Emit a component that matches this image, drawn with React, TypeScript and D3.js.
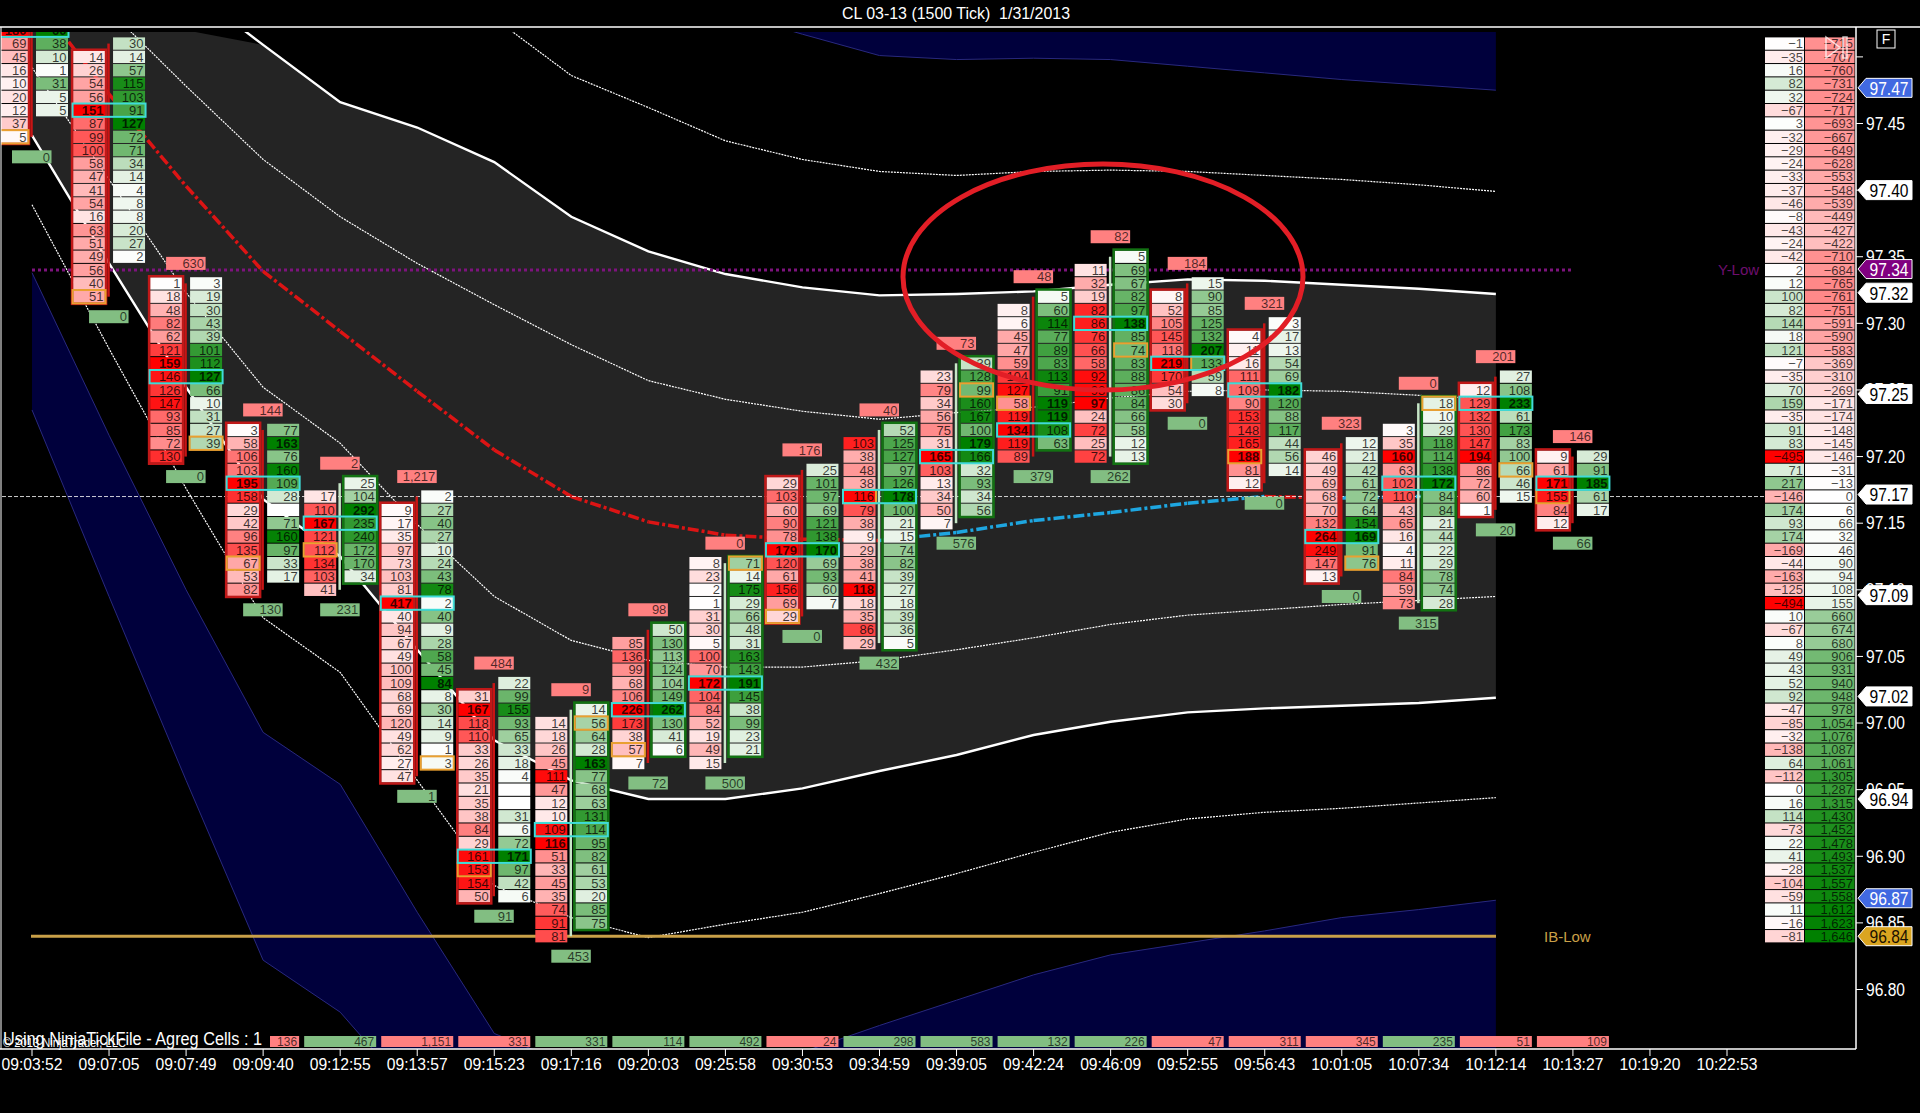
import * as d3 from "d3";

const TIME_LABELS = ["09:03:52","09:07:05","09:07:49","09:09:40","09:12:55","09:13:57","09:15:23","09:17:16","09:20:03","09:25:58","09:30:53","09:34:59","09:39:05","09:42:24","09:46:09","09:52:55","09:56:43","10:01:05","10:07:34","10:12:14","10:13:27","10:19:20","10:22:53"];

// footprint: first price of each column, then values going down one tick (0.01) per row
const BID_TOP = [97.52,97.50,97.33,97.22,97.17,97.16,97.02,97.00,97.06,97.12,97.18,97.21,97.26,97.31,97.34,97.32,97.29,97.20,97.22,97.25,97.20];
const ASK_TOP = [97.52,97.51,97.33,97.22,97.18,97.17,97.03,97.01,97.07,97.12,97.19,97.22,97.27,97.32,97.35,97.33,97.30,97.21,97.24,97.26,97.20];
const BIDS: number[][] = [
  [180,69,45,16,10,20,12,37,5],
  [14,26,54,56,151,87,99,100,58,47,41,54,16,63,51,49,56,40,51],
  [1,18,48,82,62,121,159,146,126,147,93,85,72,130],
  [3,58,106,103,195,158,29,42,96,135,67,53,82],
  [17,110,167,121,112,134,103,41],
  [9,17,35,97,73,103,81,417,40,94,67,49,100,109,68,69,120,49,62,27,47],
  [31,167,118,110,33,26,35,21,35,38,84,29,161,153,154,50],
  [14,18,26,45,111,47,12,10,109,116,51,33,45,35,74,91,81],
  [85,136,99,68,106,226,173,38,57,7],
  [8,23,2,1,31,30,5,100,70,172,104,84,52,19,49,15],
  [29,103,60,90,78,179,120,61,156,69,29],
  [103,38,48,38,116,79,38,9,29,38,41,118,18,35,86,29],
  [23,79,34,56,75,31,165,103,13,34,50,7],
  [8,6,45,47,59,104,127,58,119,134,119,89],
  [11,32,19,82,86,76,66,58,92,93,97,24,72,25,72],
  [8,52,105,145,118,219,170,54,30],
  [4,11,16,111,109,90,153,148,165,188,81,12],
  [46,49,69,68,70,132,264,249,147,13],
  [3,35,160,63,102,110,43,65,16,4,11,84,59,73],
  [12,129,132,130,147,194,86,72,60,1],
  [9,61,171,155,84,12],
];
const ASKS: (number | null)[][] = [
  [60,38,10,1,31,5,5],
  [30,14,57,115,103,91,127,72,71,34,14,4,8,8,20,27,2],
  [3,19,30,43,39,101,112,127,66,10,31,27,39],
  [77,163,76,160,109,28,null,71,160,97,33,17],
  [25,104,292,235,240,172,170,34],
  [2,27,40,27,10,24,43,78,2,40,9,28,58,45,84,8,30,14,9,1,3],
  [22,99,155,93,65,33,18,4,null,null,31,6,72,171,97,42,6],
  [14,56,64,28,163,77,68,63,131,114,95,82,61,53,20,85,75],
  [50,130,113,124,104,149,262,130,41,6],
  [71,14,175,29,66,48,31,163,143,191,145,38,99,23,21],
  [25,101,97,69,121,138,170,69,93,60,7],
  [52,125,127,97,126,178,100,21,15,74,82,39,27,18,39,36,5],
  [39,128,99,160,167,100,179,166,32,93,34,56],
  [5,60,114,77,89,83,113,91,119,119,108,63],
  [5,69,67,82,97,138,85,74,83,88,86,84,66,58,12,13],
  [15,90,85,125,132,207,133,59,8],
  [3,17,13,54,69,182,120,88,117,44,56,14],
  [12,21,42,61,72,64,154,169,91,76],
  [18,10,29,118,114,138,172,84,84,21,44,22,29,78,74,28],
  [27,108,233,61,173,83,100,66,46,15],
  [29,91,185,61,17],
];
const POC_PRICE = [97.52,97.46,97.26,97.18,97.15,97.09,96.90,96.92,97.01,97.03,97.13,97.17,97.20,97.22,97.30,97.27,97.25,97.14,97.18,97.24,97.18];
const MARK_SIDE = ["bid","bid","ask","bid","bid","ask","bid","ask","bid","ask","bid","bid","ask","bid","ask","ask","bid","ask","ask","ask","bid"];
const MARK_PRICE = [97.44,97.32,97.21,97.12,97.13,96.97,96.89,97.00,96.98,97.12,97.08,97.17,97.25,97.24,97.28,97.27,97.20,97.12,97.24,97.19,97.17];
const FRAME_SIDE = ["bid","bid","bid","bid","ask","bid","bid","ask","ask","ask","bid","ask","ask","ask","ask","bid","bid","bid","ask","bid","bid"];
const WICK_UP = [0,0,0,0,1,0,0,1,0,1,0,1,1,0,1,0,0,0,1,0,0];
const TOP_DELTA = [null,null,630,144,2,1217,484,9,98,0,176,40,73,48,82,184,321,323,0,201,146];
const BOTTOM_DELTA = [0,0,0,130,231,1,91,453,72,500,0,432,576,379,262,0,0,0,315,20,66];
const VOLUME = [null,null,null,-136,467,-1151,-331,331,114,492,-24,298,583,132,226,-47,-311,-345,235,-51,-109];

// bands, price per bar
const UPPER_2 = [null,null,97.553,97.509,97.466,97.447,97.421,97.380,97.354,97.337,97.327,97.321,97.322,97.324,97.329,97.333,97.332,97.329,97.326,97.322];
const GRAY_TOP = [97.56,97.56,97.520,97.509,97.466,97.447,97.421,97.380,97.354,97.337,97.327,97.321,97.322,97.324,97.329,97.333,97.332,97.329,97.326,97.322];
const LOWER_2 = [97.441,97.345,97.252,97.168,97.125,97.055,96.987,96.957,96.943,96.943,96.951,96.964,96.976,96.991,97.001,97.008,97.011,97.013,97.015,97.019];
const UPPER_3 = [null,null,null,null,null,null,97.529,97.486,97.462,97.437,97.423,97.414,97.411,97.414,97.415,97.414,97.411,97.408,97.404,97.399];
const UPPER_1 = [null,97.535,97.478,97.423,97.380,97.345,97.314,97.284,97.257,97.243,97.234,97.228,97.233,97.237,97.244,97.249,97.250,97.249,97.246,97.243];
const LOWER_1 = [97.492,97.408,97.323,97.252,97.210,97.149,97.095,97.062,97.047,97.042,97.042,97.047,97.055,97.064,97.074,97.081,97.085,97.089,97.092,97.095];
const LOWER_3 = [97.389,97.281,97.176,97.079,97.038,96.957,96.878,96.854,96.839,96.849,96.858,96.872,96.887,96.903,96.918,96.928,96.933,96.936,96.940,96.944];
const VWAP = [97.547,97.472,97.403,97.339,97.294,97.249,97.205,97.170,97.151,97.141,97.138,97.137,97.143,97.152,97.158,97.165,97.170,97.169,97.170,97.171];
const UPPER_4 = [null,null,null,null,null,null,null,null,null,97.534,97.517,97.501,97.498,97.499,97.498,97.493,97.488,97.483,97.479,97.475];
const LOWER_4 = [97.338,97.216,97.100,96.993,96.954,96.858,96.767,96.743,96.736,96.740,96.753,96.773,96.792,96.811,96.826,96.835,96.844,96.854,96.860,96.867];
const LOWER_4_EDGE = [97.235,97.095,96.957,96.822,96.783,96.717,96.6,96.6,96.6,96.6,96.6,96.6,96.6,96.6,96.6,96.6,96.6,96.6,96.6,96.6];

const DOM_DELTA = [-1,-35,16,82,32,-67,3,-32,-29,-24,-33,-37,-46,-8,-43,-24,-42,2,12,100,82,144,18,121,-7,-35,70,159,-35,91,83,-495,71,217,-146,174,93,174,-169,-44,-163,-125,-494,10,-67,8,49,43,52,92,-47,-85,-32,-138,64,-112,0,16,114,-73,22,41,-28,-104,-59,11,-16,-81];
const DOM_CUM = [-715,-707,-760,-731,-724,-717,-693,-667,-649,-628,-553,-548,-539,-449,-427,-422,-710,-684,-765,-761,-751,-591,-590,-583,-369,-310,-269,-171,-174,-148,-145,-146,-31,-13,0,6,66,32,46,90,94,108,155,660,674,680,906,931,940,948,978,1054,1076,1087,1061,1305,1287,1315,1430,1452,1478,1493,1537,1557,1558,1612,1623,1646];
const DOM_TOP = 97.51;

const AXIS_TICKS = [97.50,97.45,97.40,97.35,97.30,97.25,97.20,97.15,97.10,97.05,97.00,96.95,96.90,96.85,96.80];
const TAG_PRICES = [97.47,97.40,97.34,97.32,97.25,97.17,97.09,97.02,96.94,96.87,96.84];
const TAG_KINDS = ["blue","white","purple","white","white","white","white","white","white","blue","gold"];

const NARROW = "'Liberation Sans Narrow','Liberation Sans',Arial,sans-serif";
const SANS = "'Liberation Sans',Arial,sans-serif";
const RED_LABEL = "#ff8080";
const GREEN_LABEL = "#82be82";

const y = d3.scaleLinear().domain([96.8, 97.45]).range([989.5, 123.5]);
const x = d3.scalePoint<string>().domain(TIME_LABELS).range([32, 1727]);
const rowH = Math.abs(y(97.01) - y(97.0));
const barX = (i: number) => x(TIME_LABELS[i])!;
const fmt = d3.format(",");
const redScale = d3.interpolateRgb("#ffffff", "#ff0000");
const greenScale = d3.interpolateRgb("#ffffff", "#008000");

const bandLine = d3
  .line<number | null>()
  .defined((d) => d !== null)
  .x((_, i) => barX(i))
  .y((d) => y(d as number));

function bandArea(upper: (number | null)[], lower: (number | null)[]) {
  return d3
    .area<number>()
    .defined((i) => upper[i] !== null && lower[i] !== null)
    .x((i) => barX(i))
    .y0((i) => y(lower[i] as number))
    .y1((i) => y(upper[i] as number))(d3.range(upper.length)) as string;
}

function FootColumn({ values, top, left, scale, maxVal }: any) {
  return (
    <g>
      {values.map((v: number | null, k: number) => {
        const cy = y(top - k * 0.01);
        const t = v === null ? 0 : Math.min(1, v / maxVal);
        return (
          <g key={k}>
            <rect x={left} y={cy - rowH / 2 + 0.5} width={32} height={rowH - 1} fill={scale(t)} />
            {v !== null && (
              <text
                x={left + 30.5}
                y={cy}
                dy="0.36em"
                textAnchor="end"
                fontFamily={NARROW}
                fontSize={13}
                fontWeight={v === maxVal ? "bold" : "normal"}
                fill="#000"
                fillOpacity={0.75}
              >
                {v}
              </text>
            )}
          </g>
        );
      })}
    </g>
  );
}

function DeltaBox({ cx, cy, value, color }: any) {
  return (
    <g>
      <rect x={cx - 20} y={cy - 6.5} width={39.5} height={13} fill={color} />
      <text x={cx + 18} y={cy} dy="0.36em" textAnchor="end" fontFamily={NARROW} fontSize={13} fill="#000" fillOpacity={0.7}>
        {fmt(value)}
      </text>
    </g>
  );
}

function Bar({ i }: { i: number }) {
  const cx = barX(i);
  const bids = BIDS[i];
  const asks = ASKS[i];
  const bidMax = d3.max(bids)!;
  const askMax = d3.max(asks as number[])!;
  const bidBottom = BID_TOP[i] - (bids.length - 1) * 0.01;
  const askBottom = ASK_TOP[i] - (asks.length - 1) * 0.01;
  const high = Math.max(BID_TOP[i], ASK_TOP[i]);
  const low = Math.min(bidBottom, askBottom);
  const frameBid = FRAME_SIDE[i] === "bid";
  const frameTop = frameBid ? BID_TOP[i] : ASK_TOP[i];
  const frameBottom = frameBid ? bidBottom : askBottom;
  const markLeft = MARK_SIDE[i] === "bid" ? cx - 36 : cx + 4;
  return (
    <g>
      <line
        x1={cx - 0.5}
        x2={cx - 0.5}
        y1={y(high)}
        y2={y(low)}
        stroke={WICK_UP[i] ? "#c6e6c6" : "#c81414"}
        strokeWidth={2.5}
      />
      <FootColumn values={bids} top={BID_TOP[i]} left={cx - 36} scale={redScale} maxVal={bidMax} />
      <FootColumn values={asks} top={ASK_TOP[i]} left={cx + 4} scale={greenScale} maxVal={askMax} />
      <rect
        x={(frameBid ? cx - 36 : cx + 4) - 1}
        y={y(frameTop) - rowH / 2 - 0.5}
        width={34}
        height={y(frameBottom) - y(frameTop) + rowH + 1}
        fill="none"
        stroke={frameBid ? "#c01818" : "#127212"}
        strokeWidth={2.5}
      />
      <rect
        x={markLeft - 0.5}
        y={y(MARK_PRICE[i]) - rowH / 2}
        width={33}
        height={rowH}
        fill="none"
        stroke="#eaa030"
        strokeWidth={2}
      />
      <rect
        x={cx - 36.5}
        y={y(POC_PRICE[i]) - rowH / 2}
        width={73}
        height={rowH}
        fill="none"
        stroke="#3fdcd8"
        strokeWidth={2}
      />
      {TOP_DELTA[i] !== null && <DeltaBox cx={cx} cy={y(high) - 20} value={TOP_DELTA[i]} color={RED_LABEL} />}
      <DeltaBox cx={cx} cy={y(low) + 20} value={BOTTOM_DELTA[i]} color={GREEN_LABEL} />
    </g>
  );
}

function DomRows() {
  const deltaMax = d3.max(DOM_DELTA, (d) => Math.abs(d))!;
  const cumMax = d3.max(DOM_CUM, (d) => Math.abs(d))!;
  const fill = (v: number, m: number) => (v < 0 ? redScale(-v / m) : greenScale(v / m));
  return (
    <g fontFamily={NARROW} fontSize={13}>
      {DOM_DELTA.map((d, k) => {
        const cy = y(DOM_TOP - k * 0.01);
        const c = DOM_CUM[k];
        return (
          <g key={k}>
            <rect x={1765} y={cy - rowH / 2 + 0.5} width={39} height={rowH - 1} fill={fill(d, deltaMax)} />
            <rect x={1805} y={cy - rowH / 2 + 0.5} width={49.5} height={rowH - 1} fill={fill(c, cumMax)} />
            <text x={1803} y={cy} dy="0.36em" textAnchor="end" fill="#000" fillOpacity={0.72}>
              {fmt(d)}
            </text>
            <text x={1853} y={cy} dy="0.36em" textAnchor="end" fill="#000" fillOpacity={0.72}>
              {fmt(c)}
            </text>
          </g>
        );
      })}
    </g>
  );
}

function PriceTag({ price, kind }: { price: number; kind: string }) {
  // tags get pushed a bit off their price by the platform so they don't overlap
  const nudge: Record<string, number> = { "97.47": -9, "97.34": -1, "97.32": -4, "97.25": 4, "97.17": -2, "97.09": -8, "96.94": -4, "96.87": 2 };
  const label = price.toFixed(2);
  const cy = y(price) + (nudge[label] || 0);
  const colors: any = {
    white: ["#ffffff", "#000000"],
    blue: ["#4169e1", "#ffffff"],
    purple: ["#800080", "#ffffff"],
    gold: ["#daa520", "#1a1000"],
  };
  const [bg, fg] = colors[kind];
  const pts = [[1858, cy], [1866, cy - 9.5], [1912, cy - 9.5], [1912, cy + 9.5], [1866, cy + 9.5]];
  return (
    <g>
      <polygon points={pts.join(" ")} fill={bg} stroke="#fff" strokeWidth={1} />
      <text
        x={1889}
        y={cy}
        dy="0.36em"
        textAnchor="middle"
        fontFamily={SANS}
        fontSize={19}
        textLength={39}
        lengthAdjust="spacingAndGlyphs"
        fill={fg}
      >
        {label}
      </text>
    </g>
  );
}

export default function App() {
  const bars = d3.range(BIDS.length);
  const vwapSegments = d3.range(VWAP.length - 1);
  return (
    <svg width={1920} height={1113} style={{ position: "absolute", left: 0, top: 0, background: "#000" }}>
      <defs>
        <clipPath id="plot">
          <rect x={1} y={32} width={1855} height={1017} />
        </clipPath>
      </defs>
      <text
        x={956}
        y={13}
        dy="0.36em"
        textAnchor="middle"
        fontFamily={SANS}
        fontSize={16}
        textLength={228}
        lengthAdjust="spacingAndGlyphs"
        fill="#fff"
        xmlSpace="preserve"
      >
        CL 03-13 (1500 Tick)  1/31/2013
      </text>

      <g clipPath="url(#plot)">
        <path d={bandArea(GRAY_TOP, LOWER_2)} fill="#242424" />
        <path d={bandArea(UPPER_4.map((d) => (d === null ? null : 97.7)), UPPER_4)} fill="#00003c" />
        <path d={bandArea(LOWER_4, LOWER_4_EDGE)} fill="#00003c" />
        <path d={bandLine(UPPER_4)!} fill="none" stroke="#28287e" strokeWidth={1} />
        <path d={bandLine(LOWER_4)!} fill="none" stroke="#28287e" strokeWidth={1} />
        <path d={bandLine(LOWER_4_EDGE)!} fill="none" stroke="#28287e" strokeWidth={1} />
        {[UPPER_3, UPPER_1, LOWER_1, LOWER_3].map((s, k) => (
          <path key={k} d={bandLine(s)!} fill="none" stroke="#fff" strokeWidth={1.2} strokeDasharray="2 1" />
        ))}
        <path d={bandLine(UPPER_2)!} fill="none" stroke="#fff" strokeWidth={2.4} />
        <path d={bandLine(LOWER_2)!} fill="none" stroke="#fff" strokeWidth={2.4} />
        {vwapSegments.map((i) => (
          <line
            key={i}
            x1={barX(i)}
            x2={barX(i + 1)}
            y1={y(VWAP[i])}
            y2={y(VWAP[i + 1])}
            stroke={VWAP[i + 1] > VWAP[i] ? "#1ea6e0" : "#dc1414"}
            strokeWidth={3.5}
            strokeDasharray="11 3 3 3"
          />
        ))}
        <line x1={2} x2={1765} y1={y(97.17)} y2={y(97.17)} stroke="#fff" strokeWidth={1} strokeDasharray="4 2" opacity={0.8} />
        <line x1={32} x2={1571} y1={y(97.34)} y2={y(97.34)} stroke="#7d137d" strokeWidth={3} strokeDasharray="3 3" />
        <line x1={31} x2={1496} y1={y(96.84)} y2={y(96.84)} stroke="#c9a048" strokeWidth={3} />
        {bars.map((i) => (
          <Bar key={i} i={i} />
        ))}
        <text x={1718} y={y(97.34)} dy="0.36em" fontFamily={SANS} fontSize={15} fill="#6e0f6e">
          Y-Low
        </text>
        <text x={1544} y={y(96.84)} dy="0.36em" fontFamily={SANS} fontSize={15} fill="#c9a048">
          IB-Low
        </text>
        <ellipse cx={1103} cy={277} rx={200} ry={113} fill="none" stroke="#e21e26" strokeWidth={5} />
        {VOLUME.map((v, i) =>
          v === null ? null : (
            <g key={i}>
              <rect x={barX(i) - 36} y={1036} width={72} height={11} fill={v < 0 ? RED_LABEL : GREEN_LABEL} />
              <text x={barX(i) + 34} y={1041.5} dy="0.36em" textAnchor="end" fontFamily={NARROW} fontSize={12} fill="#000" fillOpacity={0.7}>
                {fmt(Math.abs(v))}
              </text>
            </g>
          )
        )}
        <rect x={0} y={1030} width={270} height={20} fill="#000" />
      </g>

      <DomRows />

      <g fill="none" stroke="#fff" strokeWidth={1.5} opacity={0.75}>
        <path d="M1826,37 L1840,47.5 L1826,58 Z" />
        <rect x={1843} y={37} width={4} height={21} />
      </g>

      <line x1={0} x2={1920} y1={27} y2={27} stroke="#fff" strokeWidth={1.5} />
      <line x1={1} x2={1} y1={27} y2={1049} stroke="#fff" strokeWidth={1} />
      <line x1={0} x2={1856} y1={1049} y2={1049} stroke="#fff" strokeWidth={1.5} />
      <line x1={1856} x2={1856} y1={27} y2={1049} stroke="#fff" strokeWidth={1.5} />

      {AXIS_TICKS.map((t) => (
        <g key={t}>
          <line x1={1856} x2={1863} y1={y(t)} y2={y(t)} stroke="#fff" strokeWidth={1} />
          {t < 97.5 && (
            <text
              x={1866}
              y={y(t)}
              dy="0.36em"
              fontFamily={SANS}
              fontSize={17.5}
              textLength={39}
              lengthAdjust="spacingAndGlyphs"
              fill="#fff"
            >
              {t.toFixed(2)}
            </text>
          )}
        </g>
      ))}
      {TAG_PRICES.map((p, k) => (
        <PriceTag key={p} price={p} kind={TAG_KINDS[k]} />
      ))}

      <rect x={1877} y={30} width={18} height={18} fill="#000" stroke="#fff" strokeWidth={1} />
      <text x={1886} y={39} dy="0.36em" textAnchor="middle" fontFamily={SANS} fontSize={14} fill="#fff">
        F
      </text>

      {TIME_LABELS.map((t) => (
        <g key={t}>
          <line x1={x(t)} x2={x(t)} y1={1049} y2={1056} stroke="#fff" strokeWidth={1} />
          <text
            x={x(t)}
            y={1064}
            dy="0.36em"
            textAnchor="middle"
            fontFamily={SANS}
            fontSize={17}
            textLength={61}
            lengthAdjust="spacingAndGlyphs"
            fill="#fff"
          >
            {t}
          </text>
        </g>
      ))}

      <text x={3} y={1047} fontFamily={SANS} fontSize={12} textLength={123} lengthAdjust="spacingAndGlyphs" fill="#fff">
        © 2013 NinjaTrader, LLC
      </text>
      <text x={3} y={1045} fontFamily={SANS} fontSize={17.5} textLength={259} lengthAdjust="spacingAndGlyphs" fill="#fff">
        Using NinjaTickFile - Agreg Cells : 1
      </text>
    </svg>
  );
}
